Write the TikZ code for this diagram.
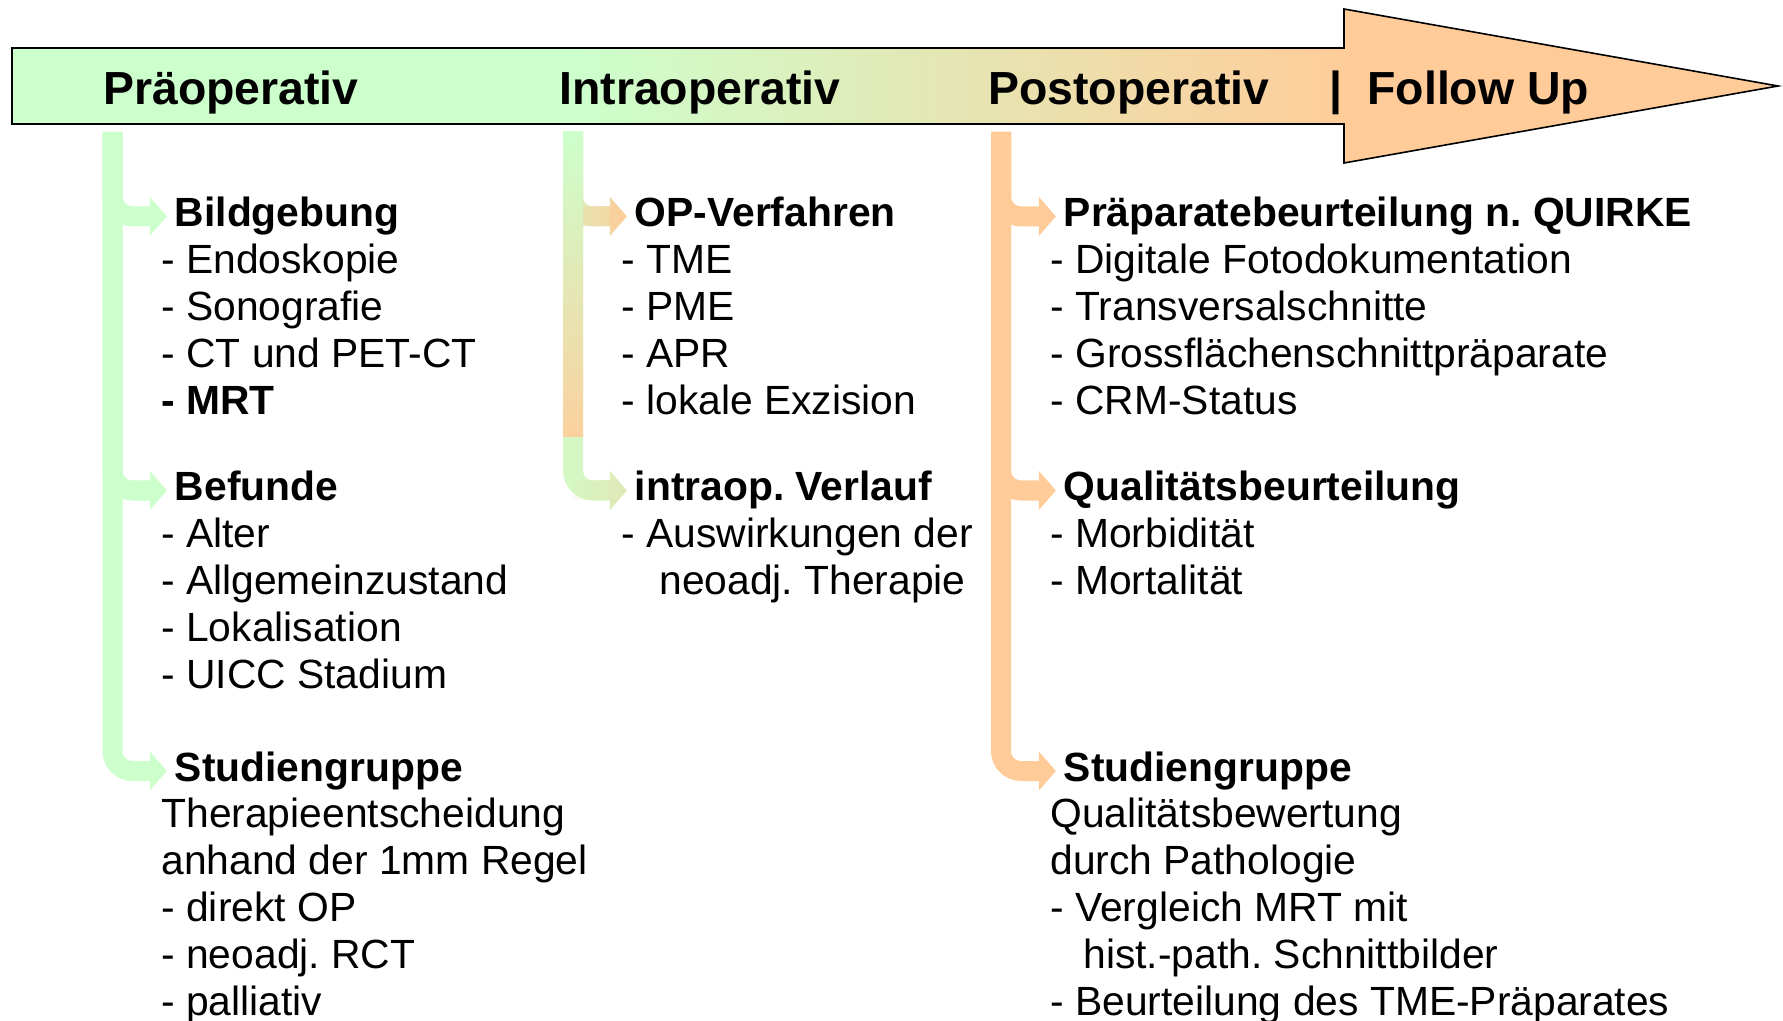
\documentclass[tikz,border=0pt]{standalone}
\usepackage{fontspec}
\setmainfont{Liberation Sans}
\usetikzlibrary{matrix,arrows.meta,fadings}

\definecolor{pregreen}{HTML}{CCFFCC}
\definecolor{postorange}{HTML}{FFCC99}
\colorlet{intraop}{postorange!40!pregreen}
\colorlet{intralow}{pregreen!85!postorange}
\colorlet{intratip}{postorange!45!pregreen}
\pgfdeclarehorizontalshading{phasebar}{100bp}{color(0bp)=(pregreen); color(41bp)=(pregreen); color(63bp)=(postorange); color(100bp)=(postorange)}

\newcommand\bodyfont{\fontsize{20.4pt}{23.45pt}\selectfont\frenchspacing}
\newcommand\phasefont{\fontsize{23.2pt}{27pt}\selectfont\bfseries}

\tikzset{
  item/.style={anchor=west, inner sep=0pt, outer sep=0pt, text height=15pt, text depth=5pt, font=\bodyfont},
  bolditem/.style={item, font=\bodyfont\bfseries},
  head/.style={item, font=\bodyfont\bfseries, inner xsep=4pt, xshift=2.75pt},
  phase/.style={anchor=base west, inner sep=0pt, font=\phasefont},
  conn/.style={line width=10pt, rounded corners=10pt, -{Triangle[length=8.5pt,width=19pt]}},
  phasecol/.style={matrix of nodes, nodes in empty cells, row sep=3.45pt, inner sep=0pt, anchor=north west, nodes={item}}
}

\begin{document}
\begin{tikzpicture}[x=0.5pt, y=-0.5pt]
  \useasboundingbox (0,0) rectangle (1783,1021);

  % phase bar
  \shade[shading=phasebar, draw=black, line width=0.8pt] (12,48) -- (1344,48) -- (1344,9) -- (1778,86) -- (1344,163) -- (1344,124) -- (12,124) -- cycle;

  \node[phase] (phase-pre) at (103,105) {Präoperativ};
  \node[phase] (phase-intra) at (559,105) {Intraoperativ};
  \node[phase] (phase-post) at (988,105) {Postoperativ};
  \node[phase] (phase-sep) at (1329,105) {|};
  \node[phase] (phase-follow) at (1367,105) {Follow Up};

  \coordinate (pre-top) at (112.5,132);
  \coordinate (intra-top) at (573,132);
  \coordinate (intra-mid) at (573,437);
  \coordinate (post-top) at (1001,132);

  \matrix (pre) [phasecol] at (161,196)
  {
    |[head]| Bildgebung \\
    - Endoskopie \\
    - Sonografie \\
    - CT und PET-CT \\
    |[bolditem]| - MRT \\[19.8pt]
    |[head]| Befunde \\
    - Alter \\
    - Allgemeinzustand \\
    - Lokalisation \\
    - UICC Stadium \\[23pt]
    |[head]| Studiengruppe \\
    Therapieentscheidung \\
    anhand der 1mm Regel \\
    - direkt OP \\
    - neoadj. RCT \\
    - palliativ \\
  };

  \matrix (intra) [phasecol] at (621,196)
  {
    |[head]| OP-Verfahren \\
    - TME \\
    - PME \\
    - APR \\
    - lokale Exzision \\[19.8pt]
    |[head]| intraop. Verlauf \\
    - Auswirkungen der \\
    \hspace*{19pt}neoadj. Therapie \\
  };

  \matrix (post) [phasecol] at (1050,196)
  {
    |[head]| Präparatebeurteilung n. QUIRKE \\
    - Digitale Fotodokumentation \\
    - Transversalschnitte \\
    - Grossflächenschnittpräparate \\
    - CRM-Status \\[19.8pt]
    |[head]| Qualitätsbeurteilung \\
    - Morbidität \\
    - Mortalität \\
    \\
    \\[23pt]
    |[head]| Studiengruppe \\
    Qualitätsbewertung \\
    durch Pathologie \\
    - Vergleich MRT mit \\
    \hspace*{16.5pt}hist.-path. Schnittbilder \\
    - Beurteilung des TME-Präparates \\
  };

  \foreach \r in {1,6,11} {
    \draw[conn, pregreen] (pre-top) |- (pre-\r-1.west);
    \draw[conn, postorange] (post-top) |- (post-\r-1.west);
  }

  \draw[conn, intralow] (intra-top) |- (intra-6-1.west);
  \draw[conn, intraop] (intra-top) |- (intra-1-1.west);
  % colour runs to the tips
  \draw[conn, postorange, path fading=west] (intra-top |- intra-1-1.west) -- (intra-1-1.west);
  \draw[conn, intratip, path fading=west] (intra-top |- intra-6-1.west) -- (intra-6-1.west);
  \shade[top color=pregreen, bottom color=postorange!90!pregreen] ([xshift=-5pt]intra-top) rectangle ([xshift=5pt]intra-mid);

\end{tikzpicture}
\end{document}
